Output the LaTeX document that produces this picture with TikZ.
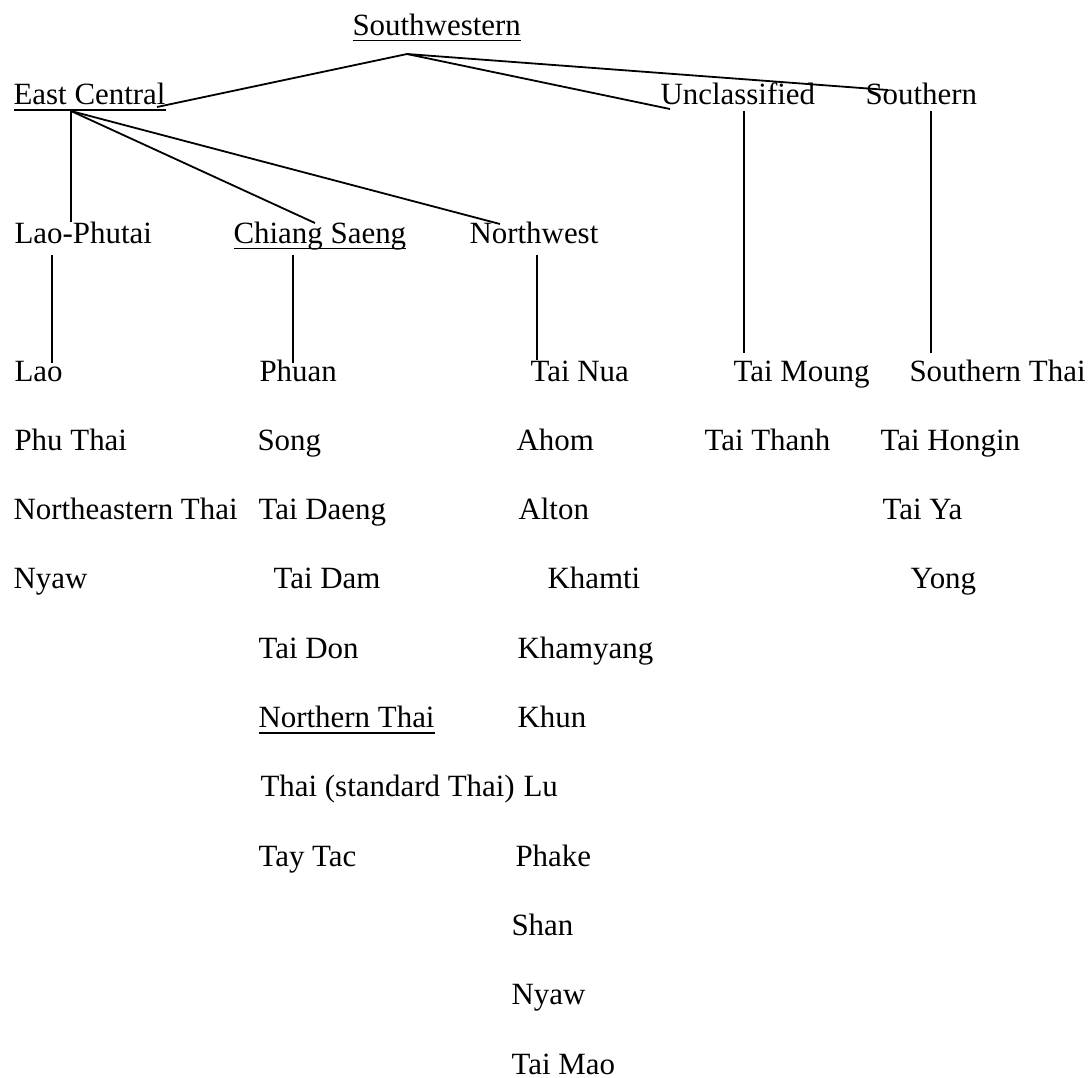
\documentclass[tikz,border=0pt]{standalone}
\usepackage{fontspec}
\setmainfont{Liberation Serif}
\usetikzlibrary{calc}

% underlined group name, rule a little under the baseline
\newcommand{\ulname}[1]{\setbox0=\hbox{#1}\rlap{\rule[-2.4pt]{\wd0}{0.6pt}}\box0}

\begin{document}
\begin{tikzpicture}[x=0.388pt, y=-0.388pt,
		lang/.style={anchor=base west, inner sep=0pt, font=\fontsize{12pt}{14pt}\selectfont},
		branch/.style={line width=0.7pt}]
	
	% page
	\useasboundingbox (0,0) rectangle (1088,1077);
	
	% rows of the list part
	\def\rowtop{381}
	\def\rowgap{69.3}
	
	% top levels
	\node[lang] (sw)    at (352,35)  {\ulname{Southwestern}};
	\node[lang] (ecent) at (13,104.5)  {\ulname{East Central}};
	\node[lang] (uncl)  at (660,104.5) {Unclassified};
	\node[lang] (south) at (865,104.5) {Southern};
	\node[lang] (lphu)  at (14,243)  {Lao-Phutai};
	\node[lang] (chsa)  at (233,243) {\ulname{Chiang Saeng}};
	\node[lang] (nwest) at (469,243) {Northwest};
	
	% language columns
	\foreach \name/\xx [count=\k] in {Lao/14, Phu Thai/14, Northeastern Thai/13, Nyaw/13}
		\node[lang] (a\k) at (\xx,{\rowtop+\rowgap*(\k-1)}) {\name};
	\foreach \name/\xx [count=\k] in {Phuan/259, Song/257, Tai Daeng/258, Tai Dam/273, Tai Don/258,
			\ulname{Northern Thai}/258, Thai (standard Thai)/260, Tay Tac/258}
		\node[lang] (b\k) at (\xx,{\rowtop+\rowgap*(\k-1)}) {\name};
	\foreach \name/\xx [count=\k] in {Tai Nua/530, Ahom/516, Alton/518, Khamti/547, Khamyang/517,
			Khun/517, Lu/523, Phake/515, Shan/511, Nyaw/511, Tai Mao/511}
		\node[lang] (c\k) at (\xx,{\rowtop+\rowgap*(\k-1)}) {\name};
	\foreach \name/\xx [count=\k] in {Tai Moung/733, Tai Thanh/704}
		\node[lang] (d\k) at (\xx,{\rowtop+\rowgap*(\k-1)}) {\name};
	\foreach \name/\xx [count=\k] in {Southern Thai/909, Tai Hongin/880, Tai Ya/882, Yong/910}
		\node[lang] (e\k) at (\xx,{\rowtop+\rowgap*(\k-1)}) {\name};
	
	% line ends
	\coordinate (sw-root)    at (407,54);
	\coordinate (ecent-in)   at (157,107);
	\coordinate (uncl-in)    at (670,109);
	\coordinate (south-in)   at (888,90);
	\coordinate (ecent-root) at (71,111);
	\coordinate (lphu-in)    at (71,222);
	\coordinate (chsa-in)    at (315,223);
	\coordinate (nwest-in)   at (500,224);
	\coordinate (lphu-foot)  at (52,255);
	\coordinate (a1-in)      at (52,363);
	\coordinate (chsa-foot)  at (293,255);
	\coordinate (b1-in)      at (293,363);
	\coordinate (nwest-foot) at (537,255);
	\coordinate (c1-in)      at (537,360);
	\coordinate (uncl-foot)  at (744,111);
	\coordinate (d1-in)      at (744,353);
	\coordinate (south-foot) at (931,111);
	\coordinate (e1-in)      at (931,353);
	
	% tree
	\draw[branch] (ecent-in) -- (sw-root) -- (uncl-in);
	\draw[branch] (sw-root) -- (south-in);
	\draw[branch] (ecent-root) -- (lphu-in);
	\draw[branch] (ecent-root) -- (chsa-in);
	\draw[branch] (ecent-root) -- (nwest-in);
	\draw[branch] (lphu-foot) -- (a1-in);
	\draw[branch] (chsa-foot) -- (b1-in);
	\draw[branch] (nwest-foot) -- (c1-in);
	\draw[branch] (uncl-foot) -- (d1-in);
	\draw[branch] (south-foot) -- (e1-in);
	
\end{tikzpicture}
\end{document}
